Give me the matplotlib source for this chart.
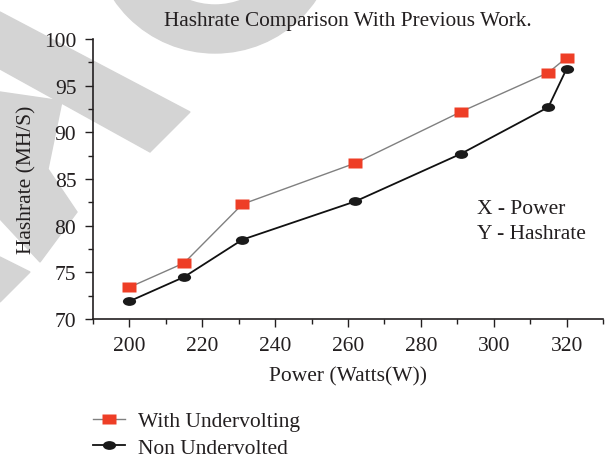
import matplotlib
matplotlib.use("Agg")
import matplotlib.pyplot as plt
from matplotlib.patches import Polygon, Wedge
from matplotlib.path import Path
from matplotlib.transforms import Affine2D
from matplotlib.ticker import MultipleLocator

# values
power = [200, 215, 231, 262, 291, 315, 320]
with_undervolting = [73.4, 76.0, 82.3, 86.7, 92.2, 96.4, 98.0]
non_undervolted = [71.9, 74.5, 78.5, 82.6, 87.7, 92.7, 96.8]

title = "Hashrate Comparison With Previous Work."
x_label = "Power (Watts(W))"
y_label = "Hashrate (MH/S)"
series_names = ["With Undervolting", "Non Undervolted"]
note_lines = ["X - Power", "Y - Hashrate"]

W, H = 605, 460
text_col = "#231f20"
plt.rcParams["font.family"] = ["Liberation Serif", "DejaVu Serif"]
plt.rcParams["font.size"] = 15.5
plt.rcParams["text.color"] = text_col
plt.rcParams["axes.labelcolor"] = text_col
plt.rcParams["xtick.color"] = text_col
plt.rcParams["ytick.color"] = text_col

fig = plt.figure(figsize=(W / 100, H / 100), dpi=100)


def px(x, y):
    # pixel position (from top-left) -> figure fraction
    return (x / W, 1 - y / H)


# faint watermark fragments behind the chart
wm = "#d4d4d4"
band = [(0, 13), (190, 113), (150, 153), (0, 70)]
strip = [(0, 93), (62, 102), (48, 170), (77, 213), (40, 263), (0, 220)]
piece = [(0, 258), (30, 273), (0, 303)]
for shape in (band, strip, piece):
    fig.patches.append(Polygon([px(*p) for p in shape], closed=True, color=wm,
                               transform=fig.transFigure, zorder=0))
ring = Wedge((215, H + 68), 122, 180, 360, width=48, color=wm, zorder=0)
ring.set_transform(Affine2D().scale(1 / 100) + fig.dpi_scale_trans)
fig.patches.append(ring)

ax = fig.add_axes([93 / W, 1 - 320 / H, 510 / W, 280 / H])
ax.set_zorder(2)
ax.patch.set_alpha(0)

rect = Path([(-1.45, -1), (1.45, -1), (1.45, 1), (-1.45, 1), (-1.45, -1)], closed=True)
oval = Path.unit_circle().transformed(Affine2D().scale(1.5, 1))

ax.plot(power, with_undervolting, color="#808080", lw=1.0, marker=rect, ms=9.5,
        mfc="#ee3e26", mec="none", label=series_names[0], zorder=3)
ax.plot(power, non_undervolted, color="#111111", lw=1.3, marker=oval, ms=9.5,
        mfc="#1a1a1a", mec="none", label=series_names[1], zorder=3)

ax.set_xlim(190, 330)
ax.set_ylim(70, 100)
ax.xaxis.set_minor_locator(MultipleLocator(10))
ax.yaxis.set_major_locator(MultipleLocator(5))
ax.yaxis.set_minor_locator(MultipleLocator(2.5))
ax.set_xticks(range(200, 321, 20))
ax.tick_params(which="major", direction="out", length=6, width=1.0, pad=6)
ax.tick_params(which="minor", direction="out", length=3.5, width=1.0)
for s in ("top", "right"):
    ax.spines[s].set_visible(False)
for s in ("left", "bottom"):
    ax.spines[s].set_linewidth(1.2)
    ax.spines[s].set_color(text_col)

ax.set_title(title, fontsize=15.3, pad=10)
ax.set_xlabel(x_label, labelpad=8)
ax.set_ylabel(y_label, labelpad=5.5)

ax.text(0.753, 0.396, note_lines[0], transform=ax.transAxes, va="center", ha="left")
ax.text(0.753, 0.304, note_lines[1], transform=ax.transAxes, va="center", ha="left")

fig.legend(loc="upper left", bbox_to_anchor=px(93, 412), frameon=False,
           handlelength=1.5, handletextpad=0.6, labelspacing=0.3, borderpad=0,
           borderaxespad=0)

fig.savefig("out.png", dpi=100)
